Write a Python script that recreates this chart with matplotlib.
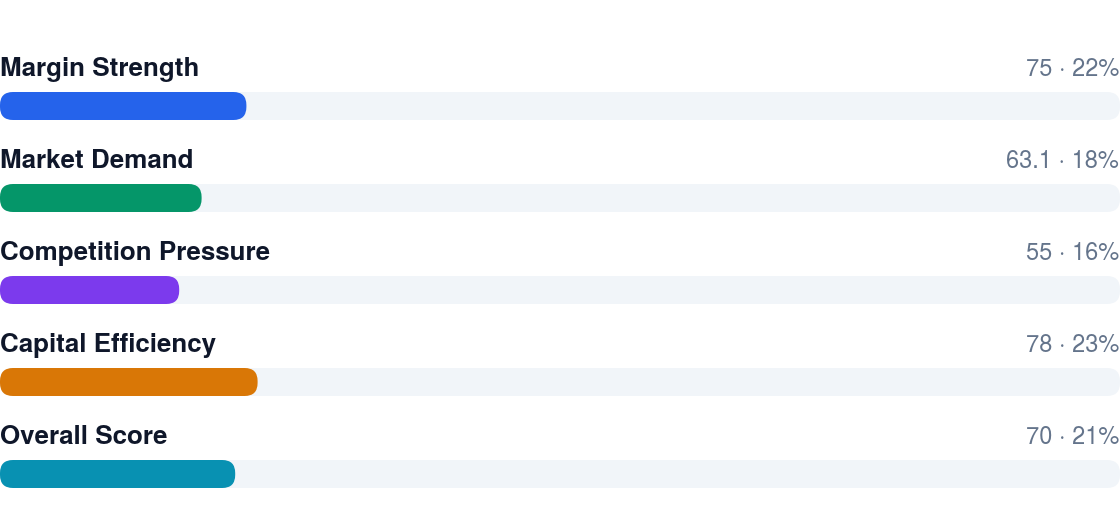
import matplotlib.pyplot as plt
from matplotlib.patches import FancyBboxPatch

# data
labels = ['Margin Strength', 'Market Demand', 'Competition Pressure',
          'Capital Efficiency', 'Overall Score']
scores = [75, 63.1, 55, 78, 70]
colors = ['#2563eb', '#059669', '#7c3aed', '#d97706', '#0891b2']

total = sum(scores)
pcts = [round(s / total * 100) for s in scores]

W, H = 1120, 524
fig = plt.figure(figsize=(W / 100, H / 100), dpi=100)
ax = fig.add_axes([0, 0, 1, 1])
ax.set_xlim(0, W)
ax.set_ylim(H, 0)
ax.axis('off')

fam = ['TeX Gyre Heros', 'Liberation Sans', 'DejaVu Sans']
track_h = 28
radius = 13
top0 = 92
step = 92

for i, (lab, sc, p, col) in enumerate(zip(labels, scores, pcts, colors)):
    y = top0 + i * step
    # background track
    ax.add_patch(FancyBboxPatch((radius, y + radius), W - 2 * radius, track_h - 2 * radius,
                                boxstyle='round,pad={}'.format(radius),
                                fc='#f1f5f9', ec='none'))
    # filled part, width = share of total
    bw = p / 100 * W
    ax.add_patch(FancyBboxPatch((radius, y + radius), bw - 2 * radius, track_h - 2 * radius,
                                boxstyle='round,pad={}'.format(radius),
                                fc=col, ec='none'))
    ax.text(0, y - 15.5, lab, ha='left', va='baseline', fontsize=18.7,
            fontweight='bold', color='#0f172a', family=fam)
    ax.text(W - 1, y - 16, '{:g} \u00b7 {}%'.format(sc, p), ha='right', va='baseline',
            fontsize=17, color='#64748b', family=fam)

fig.savefig('out.png', dpi=100, facecolor='white')
